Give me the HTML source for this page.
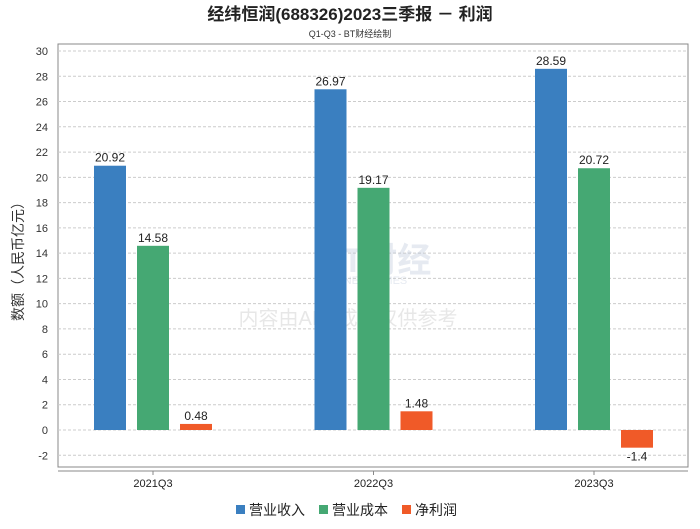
<!DOCTYPE html>
<html><head><meta charset="utf-8">
<style>
body{margin:0;background:#fff;font-family:"Liberation Sans","Noto Sans CJK SC",sans-serif;}
svg text{font-family:"Liberation Sans","Noto Sans CJK SC",sans-serif;}
</style></head>
<body>
<svg id="chart" width="700" height="524" xmlns="http://www.w3.org/2000/svg">
<text x="350" y="20" text-anchor="middle" font-size="17" font-weight="bold" fill="#222">经纬恒润(688326)2023三季报 － 利润</text>
<text x="350" y="37" text-anchor="middle" font-size="9" fill="#333">Q1-Q3 - BT财经绘制</text>
<text transform="translate(23,258) rotate(-90)" text-anchor="middle" font-size="14" fill="#333">数额（人民币亿元）</text>
<rect x="58" y="44" width="630" height="423" fill="none" stroke="#888"/>
<line x1="58" y1="471" x2="688" y2="471" stroke="#888"/>
<g id="grid"></g>
<g id="wm" opacity="0.35">
<text x="318" y="272" font-size="34" font-family="Liberation Serif" fill="#b8c4d8" font-weight="bold">BT财经</text>
<text x="318" y="284" font-size="11" fill="#b8c4d8">BUSINESSTIMES</text>
<text x="348" y="325" text-anchor="middle" font-size="20" fill="#bbb">内容由AI生成，仅供参考</text>
</g>
<g id="bars"></g>
<g font-size="14" fill="#222">
<rect x="236" y="505" width="9" height="9" fill="#3a7fc0"/><text x="249" y="515">营业收入</text>
<rect x="319" y="505" width="9" height="9" fill="#45a873"/><text x="332" y="515">营业成本</text>
<rect x="402" y="505" width="9" height="9" fill="#f05a28"/><text x="415" y="515">净利润</text>
</g>
</svg>
<script>
const categories=["2021Q3","2022Q3","2023Q3"];
const revenue=[20.92,26.97,28.59];
const cost=[14.58,19.17,20.72];
const profit=[0.48,1.48,-1.4];
const yTicks=[-2,0,2,4,6,8,10,12,14,16,18,20,22,24,26,28,30];
const colors=["#3a7fc0","#45a873","#f05a28"];
const NS="http://www.w3.org/2000/svg";
function y(v){return 430-v*12.633;}
function xc(i){return 153+i*220.5;}
function mk(tag,attrs,parent){const e=document.createElementNS(NS,tag);for(const k in attrs)e.setAttribute(k,attrs[k]);parent.appendChild(e);return e;}
const grid=document.getElementById('grid');
yTicks.forEach(t=>{
  const l=mk('line',{x1:58,x2:688,y1:y(t),y2:y(t),stroke:'#ccc','stroke-dasharray':'3,2'},grid);
  
  
  const tx=mk('text',{x:48,y:y(t)+4,'text-anchor':'end','font-size':11,fill:'#333'},grid);
  tx.textContent=t;
  
  
});
const bars=document.getElementById('bars');
const series=[revenue,cost,profit];
categories.forEach((c,i)=>{
  const tk=mk('line',{x1:xc(i),x2:xc(i),y1:471,y2:475,stroke:'#888'},bars);
  
  
  const lb=mk('text',{x:xc(i),y:487,'text-anchor':'middle','font-size':11,fill:'#222'},bars);
  lb.textContent=c;
  
  
  series.forEach((s,j)=>{
    const v=s[i];const x=xc(i)-59+j*43;
    const top=Math.min(y(v),y(0)),h=Math.abs(y(v)-y(0));
    const r=mk('rect',{x:x,y:top,width:32,height:h,fill:colors[j]},bars);
    
    
    const t=mk('text',{x:x+16,y:v>=0?top-4:top+h+13,'text-anchor':'middle','font-size':12,fill:'#222'},bars);
    t.textContent=v;
    
    
  });
});
</script>
</body></html>
